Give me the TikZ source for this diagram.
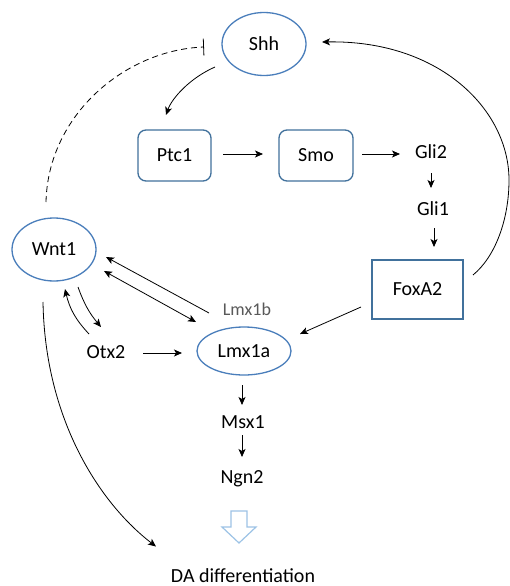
\documentclass[tikz,border=0pt]{standalone}
\usepackage{fontspec}
\setmainfont{Carlito}
\usetikzlibrary{arrows.meta,shapes.geometric}
\definecolor{ellblue}{HTML}{4A7EBB}
\definecolor{boxblue}{HTML}{41719C}
\definecolor{flowblue}{HTML}{9DC3E6}
\definecolor{labelgrey}{HTML}{595959}
\begin{document}
\begin{tikzpicture}[x=1pt,y=-1pt,
  >={Stealth[length=8pt,width=7pt,inset=2pt]},
  every node/.style={font=\fontsize{20}{24}\selectfont},
  oval/.style={ellipse, draw=ellblue, line width=1.3pt, inner sep=0pt},
  roundbox/.style={rectangle, rounded corners=8pt, draw=boxblue, line width=1.3pt,
                   minimum width=73pt, minimum height=51pt},
  plainbox/.style={rectangle, draw=boxblue, line width=1.3pt,
                   minimum width=91pt, minimum height=59pt},
  gene/.style={inner sep=1pt, text height=13pt, text depth=3pt},
  conn/.style={draw=black, line width=0.8pt, ->},
  dconn/.style={draw=black, line width=0.8pt, <->},
  inhib/.style={draw=black, line width=0.8pt, dash pattern=on 6pt off 4pt,
                -{Bar[width=17pt,line width=0.8pt]}},
]
% page frame
\fill[white] (0,0) rectangle (510,586);
\useasboundingbox (0,0) rectangle (510,586);

% ---- nodes ----
\node[oval, minimum width=84pt, minimum height=63pt] (shh) at (264,44) {Shh};
\node[roundbox] (ptc) at (174.5,155.5) {Ptc1};
\node[roundbox, minimum width=74pt] (smo) at (316,155.5) {Smo};
\node[gene] (gli2) at (431,153) {Gli2};
\node[gene] (gli1) at (433,210) {Gli1};
\node[plainbox] (foxa) at (417.5,289.5) {FoxA2};
\node[oval, minimum width=84pt, minimum height=63pt] (wnt) at (54,249.5) {Wnt1};
\node[gene, text=labelgrey, font=\fontsize{18}{22}\selectfont] (lmxb) at (247,310) {Lmx1b};
\node[gene] (otx) at (106,353) {Otx2};
\node[oval, minimum width=94pt, minimum height=48pt] (lmxa) at (244,351) {Lmx1a};
\node[gene] (msx) at (243,423) {Msx1};
\node[gene] (ngn) at (242,478) {Ngn2};
\node[gene, text depth=1pt] (da) at (243,576.5) {DA differentiation};

% ---- Shh pathway ----
\draw[conn] ([shift={(-49,23)}]shh.center)
  .. controls +(-25,11) and +(6,-17) .. ([shift={(-8.5,-40.5)}]ptc.center);
\draw[conn] ([shift={(48.5,-1.5)}]ptc.center) -- ([shift={(-53,-1.5)}]smo.center);
\draw[conn] ([shift={(46,-1.5)}]smo.center) -- ([shift={(-31,1)}]gli2.center);
\draw[conn] ([shift={(0,20)}]gli2.center) -- ([shift={(-2,-22)}]gli1.center);
\draw[conn] ([shift={(1,18)}]gli1.center) -- ([shift={(16.5,-42.5)}]foxa.center);

% FoxA2 feeds back to Shh
\draw[conn] ([shift={(55.5,-14.5)}]foxa.center)
  .. controls +(22,-18) and +(0,40) .. ++(36,-95)
  .. controls +(0,-70) and +(118,-2) .. ([shift={(58,-2)}]shh.center);

% Wnt1 represses Shh
\draw[inhib] ([shift={(-8,-47.5)}]wnt.center)
  .. controls +(2,-87) and +(-79,3) .. ([shift={(-60,3)}]shh.center);

% ---- Wnt1 / Lmx1 network ----
\draw[conn] ([shift={(-38,3)}]lmxb.center) -- ([shift={(52,7.5)}]wnt.center);
\draw[dconn] ([shift={(50,21.5)}]wnt.center) -- ([shift={(-48,-29)}]lmxa.center);
\draw[conn] ([shift={(-17,-19)}]otx.center) to[bend left=15] ([shift={(11,39.5)}]wnt.center);
\draw[conn] ([shift={(24,37.5)}]wnt.center) to[bend right=10] ([shift={(-5,-26)}]otx.center);
\draw[conn] ([shift={(37,0)}]otx.center) -- ([shift={(-62,2)}]lmxa.center);
\draw[conn] ([shift={(-56.5,17.5)}]foxa.center) -- ([shift={(56,-17)}]lmxa.center);
\draw[conn] ([shift={(-2,34)}]lmxa.center) -- ([shift={(-1,-18)}]msx.center);
\draw[conn] ([shift={(-1,12)}]msx.center) -- ([shift={(0,-21)}]ngn.center);

% Wnt1 towards differentiation
\draw[conn] ([shift={(-11,52.5)}]wnt.center)
  .. controls +(2,118) and +(-56,-43) .. ([shift={(-87,-30)}]da.center);

% hollow block arrow below Ngn2
\draw[flowblue, line width=1.2pt, line join=miter]
  (231,511) -- (247,511) -- (247,527) -- (256,527) -- (239,543)
  -- (222,527) -- (231,527) -- cycle;
\end{tikzpicture}
\end{document}
